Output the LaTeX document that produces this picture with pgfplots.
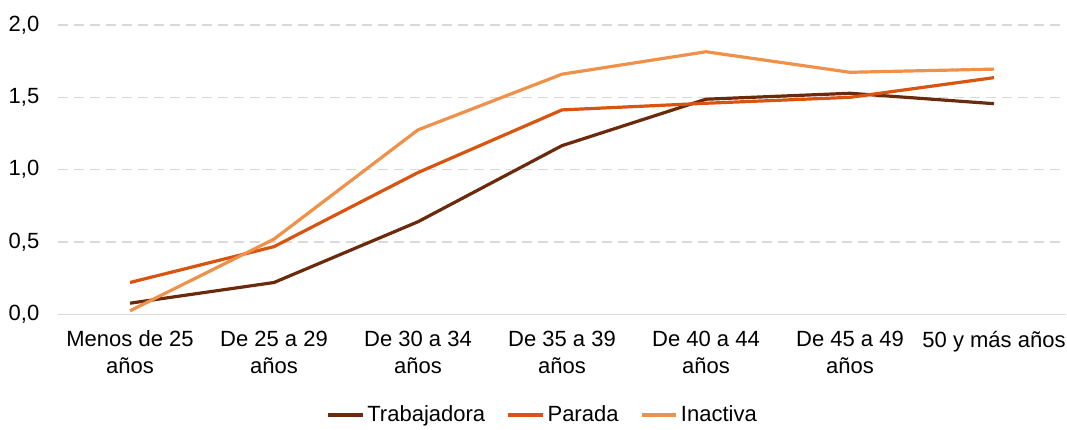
\documentclass[border=0pt]{standalone}
\usepackage{pgfplots}
\pgfplotsset{compat=1.18}
\usepackage{fontspec}
\setmainfont{Liberation Sans}
\definecolor{trab}{HTML}{6B2A0C}
\definecolor{para}{HTML}{D9540F}
\definecolor{inac}{HTML}{F0914A}
\definecolor{gridc}{HTML}{D9D9D9}
\begin{document}
\begin{tikzpicture}
\begin{axis}[
  name=ax,
  scale only axis,
  width=756pt, height=217pt,
  xmin=-0.5, xmax=6.5, ymin=0, ymax=2,
  xtick={0,...,6},
  xticklabels={{Menos de 25\\años},{De 25 a 29\\años},{De 30 a 34\\años},{De 35 a 39\\años},{De 40 a 44\\años},{De 45 a 49\\años},{50 y más años}},
  ytick={0,0.5,1,1.5,2},
  yticklabels={{0,0},{0,5},{1,0},{1,5},{2,0}},
  axis x line*=bottom, axis y line*=left,
  x axis line style={gridc, line width=1.1pt, -},
  y axis line style={draw=none},
  ymajorgrids,
  grid style={gridc, dashed, dash pattern=on 7.5pt off 4.5pt, line width=1.2pt},
  major tick length=0pt,
  tick style={draw=none},
  font=\fontsize{16.5}{20}\selectfont,
  xticklabel style={align=center, anchor=north, yshift=-9pt, font=\fontsize{16.5}{20}\selectfont},
  yticklabel style={anchor=east, xshift=-10.5pt, font=\fontsize{16.5}{20}\selectfont},
  legend columns=3,
  legend style={draw=none, at={(0.481,-0.347)}, anchor=center, font=\fontsize{16.5}{20}\selectfont,
    /tikz/every even column/.append style={column sep=14pt}},
  legend image code/.code={\draw[#1, line width=2.8pt] (0pt,0pt) -- (26pt,0pt);},
  clip=false,
]
\addplot[trab, line width=2.4pt] coordinates {(0,0.077) (1,0.22) (2,0.64) (3,1.166) (4,1.487) (5,1.528) (6,1.456)};
\addplot[para, line width=2.4pt] coordinates {(0,0.22) (1,0.468) (2,0.98) (3,1.413) (4,1.459) (5,1.50) (6,1.636)};
\addplot[inac, line width=2.4pt] coordinates {(0,0.024) (1,0.52) (2,1.275) (3,1.66) (4,1.815) (5,1.673) (6,1.695)};
\legend{Trabajadora,Parada,Inactiva}
\end{axis}
\pgfresetboundingbox
\path[use as bounding box] ([xshift=-43.5pt,yshift=18.75pt]ax.north west) rectangle ([xshift=0.75pt,yshift=-86.6pt]ax.south east);
\end{tikzpicture}
\end{document}
